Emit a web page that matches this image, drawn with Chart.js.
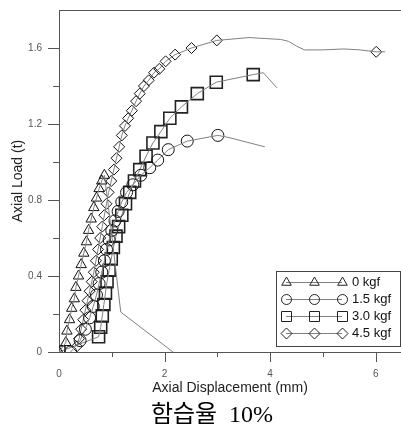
<!DOCTYPE html>
<html>
<head>
<meta charset="utf-8">
<script src="https://cdn.jsdelivr.net/npm/chart.js@4.4.1/dist/chart.umd.min.js"></script>
<style>
  html, body { margin: 0; padding: 0; background: #fff; }
  #wrap { width: 401px; height: 434px; position: relative; }
</style>
</head>
<body>
<div id="wrap"><canvas id="c"></canvas></div>
<script>
// 하중-변위 곡선 (함습율 10%)
const seriesNames = ["0 kgf", "1.5 kgf", "3.0 kgf", "4.5 kgf"];
const dispTicks = [0, 2, 4, 6];
const loadTicks = [0, 0.4, 0.8, 1.2, 1.6];

// 0 kgf (삼각형)
const tri0X = [0, 0.13, 0.15, 0.20, 0.24, 0.29, 0.32, 0.37, 0.42, 0.47, 0.52, 0.56, 0.61, 0.66, 0.71, 0.76, 0.81, 0.86];
const tri0Y = [0, 0.05, 0.11, 0.17, 0.23, 0.28, 0.34, 0.40, 0.46, 0.52, 0.58, 0.64, 0.70, 0.76, 0.81, 0.86, 0.90, 0.93];
const tail0X = [0.93, 1.17, 2.16];
const tail0Y = [0.78, 0.21, 0];

// 1.5 kgf (원)
const cir15X = [0.22, 0.40, 0.50, 0.58, 0.65, 0.71, 0.76, 0.81, 0.86, 0.90, 0.95, 1.00, 1.06, 1.12, 1.19, 1.28, 1.40, 1.55, 1.72, 1.87, 2.07, 2.43, 3.01];
const cir15Y = [0, 0.06, 0.12, 0.18, 0.24, 0.30, 0.36, 0.42, 0.48, 0.54, 0.59, 0.64, 0.69, 0.74, 0.79, 0.84, 0.88, 0.93, 0.97, 1.01, 1.065, 1.11, 1.14];
const tail15X = [3.2, 3.9];
const tail15Y = [1.13, 1.08];

// 3.0 kgf (사각형)
const sq30X = [0, 0.75, 0.79, 0.82, 0.85, 0.88, 0.91, 0.95, 0.99, 1.03, 1.08, 1.13, 1.19, 1.26, 1.34, 1.43, 1.53, 1.65, 1.78, 1.93, 2.10, 2.32, 2.62, 2.98, 3.68];
const sq30Y = [0, 0.08, 0.13, 0.19, 0.25, 0.31, 0.37, 0.43, 0.49, 0.55, 0.61, 0.66, 0.72, 0.78, 0.84, 0.90, 0.96, 1.03, 1.10, 1.16, 1.23, 1.29, 1.36, 1.42, 1.46];
const tail30X = [3.87, 4.13];
const tail30Y = [1.47, 1.39];

// 4.5 kgf (마름모)
const dia45X = [0.34, 0.38, 0.42, 0.46, 0.50, 0.54, 0.58, 0.62, 0.66, 0.70, 0.74, 0.78, 0.82, 0.86, 0.90, 0.94, 0.99, 1.04, 1.09, 1.14, 1.19, 1.25, 1.31, 1.38, 1.46, 1.53, 1.61, 1.70, 1.80, 1.90, 2.02, 2.20, 2.51, 2.99, 6.01];
const dia45Y = [0.03, 0.07, 0.12, 0.17, 0.22, 0.27, 0.32, 0.37, 0.42, 0.48, 0.54, 0.60, 0.66, 0.72, 0.78, 0.84, 0.90, 0.96, 1.02, 1.08, 1.14, 1.19, 1.23, 1.27, 1.32, 1.36, 1.40, 1.43, 1.47, 1.49, 1.53, 1.565, 1.60, 1.64, 1.58];
const tail45X = [3.2, 3.6, 3.9, 4.2, 4.35, 4.5, 4.65, 5.0, 5.4, 5.7, 6.18];
const tail45Y = [1.645, 1.655, 1.65, 1.645, 1.635, 1.61, 1.59, 1.59, 1.595, 1.59, 1.58];

function pts(xs, ys) {
  return xs.map((x, i) => ({ x: x, y: ys[i] }));
}
function linePts(xs, ys, tx, ty) {
  return pts(xs, ys).concat(pts(tx, ty)).sort((a, b) => a.x - b.x);
}

const markerStyle = ["triangle", "circle", "rect", "rectRot"];
const markerSize = [6, 6, 8.5, 5.5];
const markerWidth = [1, 1, 1.6, 1];
const markX = [tri0X, cir15X, sq30X, dia45X];
const markY = [tri0Y, cir15Y, sq30Y, dia45Y];
const tailX = [tail0X, tail15X, tail30X, tail45X];
const tailY = [tail0Y, tail15Y, tail30Y, tail45Y];

let datasets = [];
for (let i = 0; i < seriesNames.length; i++) {
  datasets.push({
    label: seriesNames[i] + " line",
    data: linePts(markX[i], markY[i], tailX[i], tailY[i]),
    showLine: true,
    borderColor: "#808080",
    borderWidth: 1,
    pointRadius: 0,
    tension: 0
  });
  datasets.push({
    label: seriesNames[i],
    data: pts(markX[i], markY[i]),
    showLine: false,
    pointStyle: markerStyle[i],
    pointRadius: markerSize[i],
    pointBorderColor: i === 2 ? "#222" : "#111",
    pointBorderWidth: markerWidth[i],
    pointBackgroundColor: "rgba(0,0,0,0)"
  });
}

// 눈금 (큰 눈금/작은 눈금)
const tickPlugin = {
  id: "ticksDraw",
  afterDraw(chart) {
    const ctx = chart.ctx;
    const xs = chart.scales.x, ys = chart.scales.y;
    const a = chart.chartArea;
    ctx.save();
    ctx.strokeStyle = "#555";
    ctx.lineWidth = 1;
    ctx.beginPath();
    ctx.moveTo(a.left, a.top + 0.5);
    ctx.lineTo(a.right, a.top + 0.5);
    for (let v = 0; v <= 1.61; v += 0.2) {
      const y = Math.round(ys.getPixelForValue(v)) + 0.5;
      const major = Math.round(v * 10) % 4 === 0;
      ctx.moveTo(a.left, y);
      ctx.lineTo(a.left - (major ? 11 : 6), y);
    }
    for (let v = 1; v <= 6; v += 1) {
      const x = Math.round(xs.getPixelForValue(v)) + 0.5;
      const major = v % 2 === 0;
      ctx.moveTo(x, a.bottom);
      ctx.lineTo(x, a.bottom + (major ? 10 : 5));
    }
    ctx.stroke();
    ctx.restore();
  }
};

function drawMark(ctx, style, x, y, r) {
  ctx.beginPath();
  if (style === "triangle") {
    ctx.moveTo(x, y - r);
    ctx.lineTo(x + r * 0.866, y + r * 0.5);
    ctx.lineTo(x - r * 0.866, y + r * 0.5);
    ctx.closePath();
  } else if (style === "circle") {
    ctx.arc(x, y, r, 0, Math.PI * 2);
  } else if (style === "rect") {
    ctx.rect(x - r, y - r, r * 2, r * 2);
  } else {
    ctx.moveTo(x - r, y);
    ctx.lineTo(x, y - r);
    ctx.lineTo(x + r, y);
    ctx.lineTo(x, y + r);
    ctx.closePath();
  }
  ctx.stroke();
}

// 범례
const legendPlugin = {
  id: "boxLegend",
  afterDraw(chart) {
    const ctx = chart.ctx;
    ctx.save();
    ctx.fillStyle = "#fff";
    ctx.fillRect(276.5, 271.5, 124, 75);
    ctx.strokeStyle = "#444";
    ctx.lineWidth = 1;
    ctx.strokeRect(276.5, 271.5, 124, 75);
    const rows = [282, 299, 316, 333];
    const sizes = [5.5, 5, 5, 5.5];
    ctx.font = "13px 'Liberation Sans', Arial, sans-serif";
    ctx.textBaseline = "middle";
    for (let i = 0; i < seriesNames.length; i++) {
      const y = rows[i] + 0.5;
      ctx.strokeStyle = "#808080";
      ctx.beginPath();
      ctx.moveTo(286, y);
      ctx.lineTo(342, y);
      ctx.stroke();
      ctx.strokeStyle = "#222";
      [286, 314, 342].forEach(x => drawMark(ctx, markerStyle[i], x + 0.5, y, sizes[i]));
      ctx.fillStyle = "#111";
      ctx.fillText(seriesNames[i], 352, y);
    }
    // 아래 제목
    ctx.fillStyle = "#000";
    ctx.font = "24px 'Liberation Serif', 'Noto Sans CJK KR', serif";
    ctx.textAlign = "center";
    ctx.fillText("함습율  10%", 212, 416);
    ctx.restore();
  }
};

const ctx = document.getElementById("c").getContext("2d");
new Chart(ctx, {
  type: "scatter",
  data: { datasets: datasets },
  options: {
    responsive: true,
    maintainAspectRatio: false,
    animation: false,
    layout: { autoPadding: false, padding: { left: 0, right: 0, top: 10, bottom: 32 } },
    plugins: {
      legend: { display: false },
      tooltip: { enabled: false }
    },
    scales: {
      x: {
        type: "linear",
        min: 0,
        max: 6.48,
        afterBuildTicks: s => { s.ticks = dispTicks.map(v => ({ value: v })); },
        afterFit: s => { s.height = 50; s.paddingLeft = 0; s.paddingRight = 0; },
        grid: { drawOnChartArea: false, drawTicks: false },
        border: { color: "#555" },
        ticks: { padding: 16, color: "#555", font: { size: 10, family: "'Liberation Sans', Arial" } },
        title: {
          display: true,
          text: "Axial Displacement (mm)",
          color: "#222",
          font: { size: 14, family: "'Liberation Sans', Arial" },
          padding: { top: 0, bottom: 5 }
        }
      },
      y: {
        type: "linear",
        min: 0,
        max: 1.8,
        afterBuildTicks: s => { s.ticks = loadTicks.map(v => ({ value: v })); },
        afterFit: s => { s.width = 59; s.paddingTop = 0; s.paddingBottom = 0; },
        grid: { drawOnChartArea: false, drawTicks: false },
        border: { color: "#555" },
        ticks: { padding: 17, color: "#555", font: { size: 10, family: "'Liberation Sans', Arial" } },
        title: {
          display: true,
          text: "Axial Load (t)",
          color: "#222",
          font: { size: 14, family: "'Liberation Sans', Arial" },
          padding: { top: 10, bottom: 0 }
        }
      }
    }
  },
  plugins: [tickPlugin, legendPlugin]
});
</script>
</body>
</html>
